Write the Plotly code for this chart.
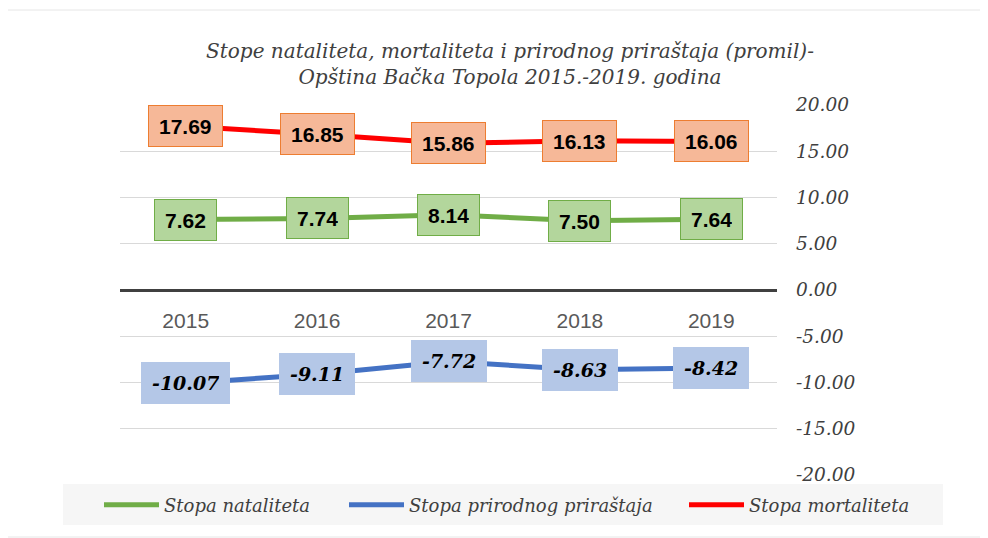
import plotly.graph_objects as go

years = ["2015", "2016", "2017", "2018", "2019"]
natalitet = [7.62, 7.74, 8.14, 7.50, 7.64]
prirastaj = [-10.07, -9.11, -7.72, -8.63, -8.42]
mortalitet = [17.69, 16.85, 15.86, 16.13, 16.06]
y_ticks = [20, 15, 10, 5, 0, -5, -10, -15, -20]
y_tick_text = [f"{v:.2f}" for v in y_ticks]

# page is offset by the browser's default 8px body margin
OFF = 8
W, H = 988 - OFF, 538 - OFF

def fx(p):  # reference page x -> figure x
    return p - OFF

def fy(p):
    return p - OFF

series = [
    ("Stopa nataliteta", natalitet, "#70AD47", "#B3D69C", "#70AD47",
     dict(family="Liberation Sans", size=21, color="#000000", weight="bold"), "legend", 105),
    ("Stopa prirodnog priraštaja", prirastaj, "#4472C4", "#B4C7E7", "#B4C7E7",
     dict(family="DejaVu Serif", size=19, color="#000000", weight="bold", style="italic"), "legend2", 350),
    ("Stopa mortaliteta", mortalitet, "#FF0000", "#F6B898", "#ED7D31",
     dict(family="Liberation Sans", size=21, color="#000000", weight="bold"), "legend3", 690),
]

fig = go.Figure()
annotations = []
legends = {}
for name, vals, lc, fill, border, font, leg, legx in series:
    fig.add_trace(go.Scatter(x=years, y=vals, mode="lines", name=name, legend=leg,
                             line=dict(color=lc, width=5)))
    for i, v in enumerate(vals):
        annotations.append(dict(x=i, y=v, xref="x", yref="y", text=f"{v:.2f}",
                                showarrow=False, font=font, bgcolor=fill,
                                bordercolor=border, borderwidth=1, borderpad=10,
                                height=20, xanchor="center", yanchor="middle"))
    legends[leg] = dict(orientation="h", xref="container", yref="container",
                        x=fx(legx - 6) / W, xanchor="left", y=1 - fy(505) / H, yanchor="middle",
                        bgcolor="rgba(0,0,0,0)", itemwidth=55,
                        font=dict(family="DejaVu Serif", size=18, color="#404040", style="italic"))

L = fx(120)
R = W - fx(777)
T = fy(105)
B = H - fy(475)
pw, ph = W - L - R, H - T - B

def px_x(p):
    return (fx(p) - L) / pw

def px_y(p):
    return (H - B - fy(p)) / ph

shapes = [
    dict(type="rect", xref="paper", yref="paper", layer="below",
         x0=px_x(63), x1=px_x(943), y0=px_y(525), y1=px_y(484),
         fillcolor="#F6F6F6", line=dict(width=0)),
    dict(type="rect", xref="paper", yref="paper", layer="below",
         x0=px_x(5), x1=px_x(986), y0=px_y(537), y1=px_y(10),
         fillcolor="rgba(0,0,0,0)", line=dict(color="#E6E6E6", width=1)),
]

fig.update_layout(
    width=W, height=H,
    margin=dict(l=L, r=R, t=T, b=B, autoexpand=False),
    paper_bgcolor="white", plot_bgcolor="white",
    title=dict(text="Stope nataliteta, mortaliteta i prirodnog priraštaja (promil)-<br>Opština Bačka Topola 2015.-2019. godina",
               xref="container", yref="container", x=fx(510) / W, y=1 - fy(58) / H,
               xanchor="center", yanchor="middle",
               font=dict(family="DejaVu Serif", size=20, color="#404040", style="italic")),
    xaxis=dict(type="category", range=[-0.5, 4.5], showgrid=False, zeroline=False,
               showline=False, ticks="", anchor="free", position=px_y(306), automargin=False,
               tickfont=dict(family="Liberation Sans", size=21, color="#595959")),
    yaxis=dict(range=[-20, 20], side="right", tickvals=y_ticks, ticktext=y_tick_text,
               showgrid=True, gridcolor="#D9D9D9", gridwidth=1, automargin=False,
               zeroline=True, zerolinecolor="#404040", zerolinewidth=3,
               showline=False, ticks="", ticklabelstandoff=18,
               tickfont=dict(family="DejaVu Serif", size=18.5, color="#404040", style="italic")),
    annotations=annotations,
    shapes=shapes,
    showlegend=True,
    **legends,
)

fig.write_html("out.html")
